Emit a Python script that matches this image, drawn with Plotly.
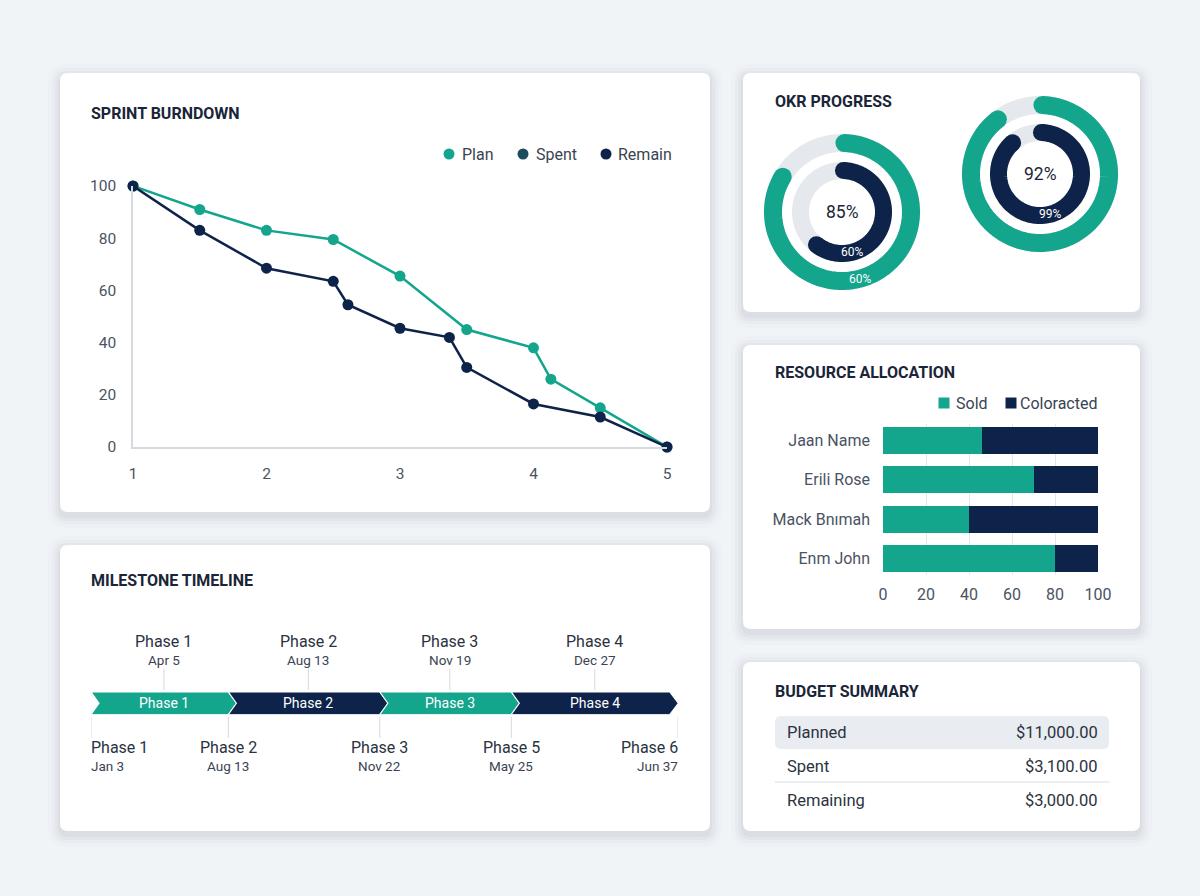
import numpy as np
import plotly.graph_objects as go

W, H = 1200, 896

# ---------------- data ----------------
burn_series = ["Plan", "Spent", "Remain"]
burn_x_plan = [1, 1.5, 2, 2.5, 3, 3.5, 4, 4.13, 4.5, 5]
burn_plan = [100, 91, 83, 79.5, 65.5, 45, 38, 26, 15, 0]
burn_x_remain = [1, 1.5, 2, 2.5, 2.61, 3, 3.37, 3.5, 4, 4.5, 5]
burn_remain = [100, 83, 68.5, 63.5, 54.5, 45.5, 42, 30.5, 16.5, 11.5, 0]
burn_xticks = [1, 2, 3, 4, 5]
burn_yticks = [0, 20, 40, 60, 80, 100]

okr_outer = [83, 89]
okr_inner = [60, 88]
okr_center_labels = ["85%", "92%"]
okr_inner_labels = ["60%", "99%"]
okr_outer_labels = ["60%", ""]

res_people = ["Jaan Name", "Erili Rose", "Mack Bnımah", "Enm John"]
res_series = ["Sold", "Coloracted"]
res_sold = [46, 70, 40, 80]
res_coloracted = [54, 30, 60, 20]
res_xticks = [0, 20, 40, 60, 80, 100]

phase_names = ["Phase 1", "Phase 2", "Phase 3", "Phase 4"]
phase_bounds = [0, 23.4, 49.2, 71.6, 98.6]
top_ms_names = ["Phase 1", "Phase 2", "Phase 3", "Phase 4"]
top_ms_dates = ["Apr 5", "Aug 13", "Nov 19", "Dec 27"]
bottom_ms_names = ["Phase 1", "Phase 2", "Phase 3", "Phase 5", "Phase 6"]
bottom_ms_dates = ["Jan 3", "Aug 13", "Nov 22", "May 25", "Jun 37"]
bottom_ms_pos = [0, 23.4, 49.2, 71.6, 100]

budget_items = ["Planned", "Spent", "Remaining"]
budget_values = [11000, 3100, 3000]

# ---------------- style ----------------
FONT = "Roboto, Inter, sans-serif"
BG = "#f1f4f7"
TEAL = "#14a58d"
NAVY = "#0d2349"
SPENT = "#1d4c5f"
TRACK = "#e5e8ec"
TITLE = "#1a2537"
TICK = "#4a5363"
TEXT = "#2a3341"
GRID = "#e3e6ea"
AXLINE = "#d5dae1"


def px(x):
    return x / W


def py(y):
    return 1 - y / H


def rrect(x0, y0, x1, y1, r):
    return (f"M {px(x0 + r)},{py(y0)} L {px(x1 - r)},{py(y0)} "
            f"Q {px(x1)},{py(y0)} {px(x1)},{py(y0 + r)} L {px(x1)},{py(y1 - r)} "
            f"Q {px(x1)},{py(y1)} {px(x1 - r)},{py(y1)} L {px(x0 + r)},{py(y1)} "
            f"Q {px(x0)},{py(y1)} {px(x0)},{py(y1 - r)} L {px(x0)},{py(y0 + r)} "
            f"Q {px(x0)},{py(y0)} {px(x0 + r)},{py(y0)} Z")


shapes = []
annotations = []

# cards with soft shadows
cards = [(60, 73, 710, 512), (743, 73, 1140, 312), (743, 345, 1140, 629),
         (60, 545, 710, 831), (743, 662, 1140, 831)]
for (x0, y0, x1, y1) in cards:
    for s, a in [(12, 0.018), (8, 0.022), (5, 0.028), (2, 0.035)]:
        shapes.append(dict(type="path", xref="paper", yref="paper", layer="below",
                           path=rrect(x0 - s, y0 - s + 3, x1 + s, y1 + s + 4, 8 + s),
                           fillcolor=f"rgba(40,60,90,{a})", line=dict(width=0)))
    shapes.append(dict(type="path", xref="paper", yref="paper", layer="below",
                       path=rrect(x0, y0, x1, y1, 8), fillcolor="#ffffff",
                       line=dict(width=0)))


def title(x, y, text):
    annotations.append(dict(x=px(x - 2), y=py(y), xref="paper", yref="paper", text=text,
                            showarrow=False, xanchor="left", yanchor="middle",
                            font=dict(family=FONT, size=16, color=TITLE, weight=700)))


def label(x, y, text, size=16, color=TEXT, xanchor="left", xref="paper"):
    if xref == "paper":
        shift = {"left": -2, "right": 2, "center": 0}[xanchor]
        xx = px(x + shift)
        xs = 0
    else:
        xx = x
        xs = {"left": -2, "right": 2, "center": 0}[xanchor]
    annotations.append(dict(x=xx, y=py(y), xref=xref, xshift=xs,
                            yref="paper", text=text, showarrow=False, xanchor=xanchor,
                            yanchor="middle", font=dict(family=FONT, size=size, color=color)))


title(91, 114, "SPRINT BURNDOWN")
title(775, 101, "OKR PROGRESS")
title(775, 373, "RESOURCE ALLOCATION")
title(91, 580, "MILESTONE TIMELINE")
title(775, 691, "BUDGET SUMMARY")

fig = go.Figure()

# ---------------- burndown ----------------
fig.add_trace(go.Scatter(x=burn_x_plan, y=burn_plan, mode="lines+markers", name="Plan",
                         line=dict(color=TEAL, width=2.5), marker=dict(size=11, color=TEAL),
                         cliponaxis=False, showlegend=False, xaxis="x", yaxis="y"))
fig.add_trace(go.Scatter(x=burn_x_remain, y=burn_remain, mode="lines+markers", name="Remain",
                         line=dict(color=NAVY, width=2.5), marker=dict(size=11, color=NAVY),
                         cliponaxis=False, showlegend=False, xaxis="x", yaxis="y"))

# manual legend
for name, col, cx, tx in zip(burn_series, [TEAL, SPENT, NAVY], [449, 523, 606], [462, 536, 618]):
    shapes.append(dict(type="circle", xref="paper", yref="paper",
                       x0=px(cx - 5.5), x1=px(cx + 5.5), y0=py(154 + 5.5), y1=py(154 - 5.5),
                       fillcolor=col, line=dict(width=0)))
    label(tx, 154, name, size=16, color="#3a4352")

# ---------------- resource allocation ----------------
fig.add_trace(go.Bar(y=res_people, x=res_sold, orientation="h", name="Sold",
                     marker=dict(color=TEAL, line=dict(width=0)), width=0.68,
                     showlegend=False, xaxis="x2", yaxis="y2"))
fig.add_trace(go.Bar(y=res_people, x=res_coloracted, orientation="h", name="Coloracted",
                     marker=dict(color=NAVY, line=dict(width=0)), width=0.68,
                     showlegend=False, xaxis="x2", yaxis="y2"))
for name, col, cx, tx in zip(res_series, [TEAL, NAVY], [944, 1011], [956, 1020]):
    shapes.append(dict(type="rect", xref="paper", yref="paper",
                       x0=px(cx - 5.5), x1=px(cx + 5.5), y0=py(403 + 5.5), y1=py(403 - 5.5),
                       fillcolor=col, line=dict(width=0)))
    label(tx, 403, name, size=16, color="#3a4352")

# ---------------- OKR donuts ----------------
R = 80
centers = [(842, 212), (1040, 174)]
r_out, w_out = 69, 18
r_in, w_in = 41.5, 17
for i, (cx, cy) in enumerate(centers):
    sub = "polar" if i == 0 else "polar2"
    full = np.linspace(0, 360, 241)
    for rr, ww in [(r_out, w_out), (r_in, w_in)]:
        fig.add_trace(go.Scatterpolar(r=[rr] * len(full), theta=full, mode="lines",
                                      line=dict(color=TRACK, width=ww), showlegend=False,
                                      hoverinfo="skip", subplot=sub))
    for rr, ww, val, col in [(r_out, w_out, okr_outer[i], TEAL), (r_in, w_in, okr_inner[i], NAVY)]:
        th = np.linspace(2, 2 + val * 3.6, 200)
        fig.add_trace(go.Scatterpolar(r=[rr] * len(th), theta=th, mode="lines",
                                      line=dict(color=col, width=ww), showlegend=False,
                                      hoverinfo="skip", subplot=sub))
        fig.add_trace(go.Scatterpolar(r=[rr, rr], theta=[th[0], th[-1]], mode="markers",
                                      marker=dict(color=col, size=ww, line=dict(width=0)),
                                      showlegend=False, hoverinfo="skip", subplot=sub))
    label(cx, cy, okr_center_labels[i], size=17.5, color=TITLE, xanchor="center")
    if okr_inner_labels[i]:
        label(cx + 10, cy + 40, okr_inner_labels[i], size=12, color="#ffffff", xanchor="center")
    if okr_outer_labels[i]:
        label(cx + 18, cy + 67, okr_outer_labels[i], size=12, color="#ffffff", xanchor="center")

# ---------------- milestone timeline ----------------
tip = 1.45
notch = 1.36
for i, name in enumerate(phase_names):
    a, b = phase_bounds[i], phase_bounds[i + 1]
    col = TEAL if i % 2 == 0 else NAVY
    xs = [a, b, b + tip, b, a, a + notch, a]
    ys = [1, 1, 0.5, 0, 0, 0.5, 1]
    fig.add_trace(go.Scatter(x=xs, y=ys, mode="lines", fill="toself", fillcolor=col,
                             line=dict(color="#ffffff", width=1.2), showlegend=False,
                             hoverinfo="skip", xaxis="x3", yaxis="y3"))
    c = (a + b) / 2 + tip / 2
    annotations.append(dict(x=c, y=0.5, xref="x3", yref="y3", text=name, showarrow=False,
                            xanchor="center", yanchor="middle",
                            font=dict(family=FONT, size=14, color="#ffffff")))
    # top milestone
    label(c, 641, top_ms_names[i], size=16, color=TEXT, xanchor="center", xref="x3")
    label(c, 660, top_ms_dates[i], size=13.5, color="#3b4452", xanchor="center", xref="x3")
    shapes.append(dict(type="line", xref="x3", yref="paper", x0=c, x1=c,
                       y0=py(669), y1=py(690), line=dict(color="#d3d8de", width=1)))

for j, pos in enumerate(bottom_ms_pos):
    anchor = "left" if j == 0 else ("right" if j == len(bottom_ms_pos) - 1 else "center")
    shapes.append(dict(type="line", xref="x3", yref="paper", x0=pos, x1=pos,
                       y0=py(717), y1=py(738), line=dict(color="#d3d8de", width=1)))
    label(pos, 747, bottom_ms_names[j], size=16, color=TEXT, xanchor=anchor, xref="x3")
    label(pos, 766, bottom_ms_dates[j], size=13.5, color="#3b4452", xanchor=anchor, xref="x3")

# ---------------- budget summary ----------------
shapes.append(dict(type="path", xref="paper", yref="paper", path=rrect(775, 716, 1109, 749, 6),
                   fillcolor="#e9ecf0", line=dict(width=0)))
shapes.append(dict(type="line", xref="paper", yref="paper", x0=px(775), x1=px(1109),
                   y0=py(782), y1=py(782), line=dict(color="#d8dde3", width=1)))
for k, (item, val) in enumerate(zip(budget_items, budget_values)):
    yy = 732 + 34 * k
    label(787, yy, item, size=16.5, color=TEXT, xanchor="left")
    label(1098, yy, f"${val:,.2f}", size=16.5, color=TEXT, xanchor="right")

# ---------------- layout ----------------
tickfont = dict(family=FONT, size=15.5, color=TICK)
fig.update_layout(
    width=W, height=H, margin=dict(l=0, r=0, t=0, b=0, autoexpand=False),
    paper_bgcolor=BG, plot_bgcolor="rgba(0,0,0,0)",
    font=dict(family=FONT), barmode="stack", showlegend=False,
    xaxis=dict(domain=[px(133), px(667)], range=[1, 5], tickvals=burn_xticks, anchor="y",
               showgrid=False, zeroline=False, showline=True, linecolor=AXLINE, linewidth=1.5,
               ticks="", ticklabelstandoff=12, tickfont=tickfont, fixedrange=True,
               automargin=False),
    yaxis=dict(domain=[py(447), py(186)], range=[0, 100], tickvals=burn_yticks, anchor="x",
               showgrid=False, zeroline=False, showline=True, linecolor=AXLINE, linewidth=1.5,
               ticks="", ticklabelstandoff=12, tickfont=tickfont, fixedrange=True,
               automargin=False),
    xaxis2=dict(domain=[px(883), px(1098)], range=[0, 100], tickvals=res_xticks, anchor="y2",
                showgrid=True, gridcolor=GRID, gridwidth=1, zeroline=False, showline=False,
                ticks="", ticklabelstandoff=8, tickfont=dict(family=FONT, size=16, color=TICK),
                fixedrange=True, automargin=False),
    yaxis2=dict(domain=[py(575.4), py(423.6)], type="category", categoryorder="array",
                categoryarray=res_people, range=[3.42, -0.42], showgrid=False, anchor="x2",
                zeroline=False, showline=False, ticks="", ticklabelstandoff=12,
                tickfont=dict(family=FONT, size=16, color=TICK), fixedrange=True,
                automargin=False),
    xaxis3=dict(domain=[px(91), px(678)], range=[0, 100], visible=False, fixedrange=True,
                anchor="y3", automargin=False),
    yaxis3=dict(domain=[py(714.5), py(692)], range=[0, 1], visible=False, fixedrange=True,
                anchor="x3", automargin=False),
    shapes=shapes, annotations=annotations,
)
for i, (cx, cy) in enumerate(centers):
    key = "polar" if i == 0 else "polar2"
    fig.layout[key] = dict(domain=dict(x=[px(cx - R), px(cx + R)], y=[py(cy + R), py(cy - R)]),
                           bgcolor="rgba(0,0,0,0)",
                           radialaxis=dict(visible=False, range=[0, R]),
                           angularaxis=dict(visible=False, direction="clockwise", rotation=90))

fig.write_html("out.html")
